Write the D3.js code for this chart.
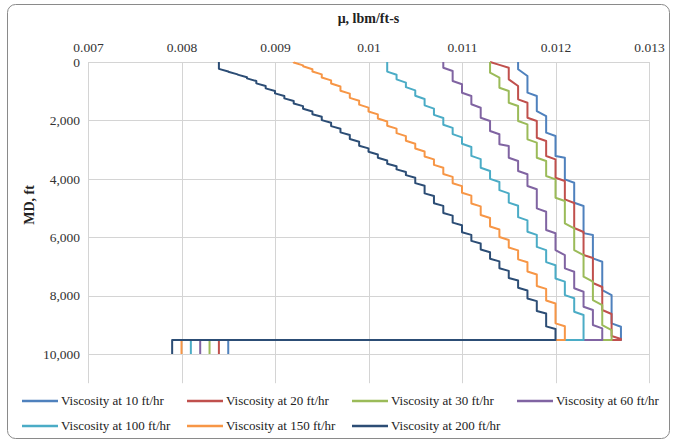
<!DOCTYPE html>
<html>
<head>
<meta charset="utf-8">
<script src="https://cdn.jsdelivr.net/npm/d3@7"></script>
<style>
  body { margin: 0; background: #fff; }
  svg { display: block; }
  svg text { font-family: "Liberation Serif", "Times New Roman", serif; }
</style>
</head>
<body>
<div id="chart"></div>
<script>
// runs of constant viscosity: [mu lbm/ft-s, top MD ft, bottom MD ft]
const visc10 = [
  [0.0116, 0, 250], [0.0117, 480, 1050], [0.0118, 1165, 1680], [0.0119, 1850, 2420],
  [0.0120, 2535, 3220], [0.0121, 3280, 4020], [0.0122, 4135, 4820], [0.0123, 4930, 5860],
  [0.0124, 5925, 6725], [0.0125, 6840, 7810], [0.0126, 7980, 8950], [0.0127, 9065, 9520]
]
const visc20 = [
  [0.0113, 0, 0], [0.0114, 100, 100], [0.0115, 195, 593], [0.0116, 822, 1278],
  [0.0117, 1394, 1907], [0.0118, 2021, 2593], [0.0119, 2706, 3220], [0.0120, 3333, 3963],
  [0.0121, 4076, 4703], [0.0122, 4830, 5685], [0.0123, 5823, 6610], [0.0124, 6713, 7570],
  [0.0125, 7706, 8494], [0.0126, 8631, 9384], [0.0127, 9486, 9520]
]
const visc30 = [
  [0.0113, 0, 365], [0.0114, 537, 880], [0.0115, 993, 1394], [0.0116, 1507, 2021],
  [0.0117, 2135, 2648], [0.0118, 2763, 3278], [0.0119, 3391, 3905], [0.0120, 4018, 4650],
  [0.0121, 4760, 5525], [0.0122, 5696, 6439], [0.0123, 6610, 7353], [0.0124, 7525, 8152],
  [0.0125, 8323, 9008], [0.0126, 9179, 9520]
]
const visc60 = [
  [0.0108, 0, 195], [0.0109, 308, 650], [0.0110, 764, 1051], [0.0111, 1165, 1449],
  [0.0112, 1565, 1908], [0.0113, 2021, 2363], [0.0114, 2476, 2819], [0.0115, 2877, 3278],
  [0.0116, 3391, 3733], [0.0117, 3846, 4247], [0.0118, 4360, 5011], [0.0119, 5127, 5754],
  [0.0120, 5867, 6439], [0.0121, 6610, 7066], [0.0122, 7181, 7750], [0.0123, 7867, 8381],
  [0.0124, 8494, 9008], [0.0125, 9121, 9520]
]
const visc100 = [
  [0.0102, 0, 328], [0.0103, 438, 595], [0.0104, 705, 862], [0.0105, 972, 1158],
  [0.0106, 1268, 1485], [0.0107, 1595, 1810], [0.0108, 1920, 2147], [0.0109, 2257, 2470],
  [0.0110, 2580, 2801], [0.0111, 2911, 3216], [0.0112, 3326, 3621], [0.0113, 3731, 4001],
  [0.0114, 4111, 4389], [0.0115, 4499, 4815], [0.0116, 4925, 5313], [0.0117, 5423, 5812],
  [0.0118, 5922, 6332], [0.0119, 6442, 6852], [0.0120, 6962, 7412], [0.0121, 7522, 7983],
  [0.0122, 8093, 8554], [0.0123, 8664, 9520]
]
const visc150 = [
  [0.0092, 0, 16], [0.0093, 116, 147], [0.0094, 247, 323], [0.0095, 423, 529],
  [0.0096, 629, 738], [0.0097, 838, 983], [0.0098, 1083, 1228], [0.0099, 1328, 1461],
  [0.0100, 1561, 1694], [0.0101, 1794, 1937], [0.0102, 2037, 2182], [0.0103, 2282, 2437],
  [0.0104, 2537, 2697], [0.0105, 2797, 2963], [0.0106, 3063, 3236], [0.0107, 3336, 3524],
  [0.0108, 3624, 3835], [0.0109, 3935, 4150], [0.0110, 4250, 4477], [0.0111, 4577, 4845],
  [0.0112, 4945, 5241], [0.0113, 5341, 5636], [0.0114, 5736, 5994], [0.0115, 6094, 6351],
  [0.0116, 6451, 6758], [0.0117, 6858, 7177], [0.0118, 7277, 7671], [0.0119, 7771, 8170],
  [0.0120, 8270, 8950], [0.0121, 9050, 9520]
]
const visc200 = [
  [0.0084, 0, 235], [0.0085, 325, 334], [0.0086, 424, 433], [0.0087, 523, 561],
  [0.0088, 651, 732], [0.0089, 822, 903], [0.0090, 993, 1075], [0.0091, 1165, 1246],
  [0.0092, 1336, 1422], [0.0093, 1512, 1604], [0.0094, 1694, 1787], [0.0095, 1877, 1990],
  [0.0096, 2080, 2195], [0.0097, 2285, 2410], [0.0098, 2500, 2639], [0.0099, 2729, 2867],
  [0.0100, 2957, 3075], [0.0101, 3165, 3281], [0.0102, 3371, 3482], [0.0103, 3572, 3678],
  [0.0104, 3768, 3875], [0.0105, 3965, 4149], [0.0106, 4239, 4500], [0.0107, 4590, 4838],
  [0.0108, 4928, 5170], [0.0109, 5260, 5502], [0.0110, 5592, 5831], [0.0111, 5921, 6127],
  [0.0112, 6217, 6423], [0.0113, 6513, 6737], [0.0114, 6827, 7063], [0.0115, 7153, 7395],
  [0.0116, 7485, 7733], [0.0117, 7823, 8098], [0.0118, 8188, 8526], [0.0119, 8616, 9055],
  [0.0120, 9145, 9520]
]
// bottom section: viscosity at TD for each series, from 9520 ft to 10000 ft
const tdValues = [0.0085, 0.0084, 0.0083, 0.0082, 0.0081, 0.0080, 0.0079]
const tdDepths = [9520, 10000]

const seriesNames = ['Viscosity at 10 ft/hr', 'Viscosity at 20 ft/hr', 'Viscosity at 30 ft/hr',
  'Viscosity at 60 ft/hr', 'Viscosity at 100 ft/hr', 'Viscosity at 150 ft/hr', 'Viscosity at 200 ft/hr']
const seriesRuns = [visc10, visc20, visc30, visc60, visc100, visc150, visc200]
const colors = ['#4F81BD', '#C0504D', '#9BBB59', '#8064A2', '#4BACC6', '#F79646', '#2C4D75']

const xTicks = [0.007, 0.008, 0.009, 0.01, 0.011, 0.012, 0.013]
const yTicks = [0, 2000, 4000, 6000, 8000, 10000]

const width = 673
const height = 442
const marginLeft = 88
const marginRight = 24
const marginTop = 62
const plotBottom = 383.2

const x = d3.scaleLinear([0.007, 0.013], [marginLeft, width - marginRight])
const y = d3.scaleLinear([0, 11000], [marginTop, plotBottom])

const svg = d3.create('svg')
  .attr('width', width)
  .attr('height', height)
  .attr('viewBox', [0, 0, width, height])

svg.append('rect')
  .attr('x', 7.5).attr('y', 4.5)
  .attr('width', 662).attr('height', 434)
  .attr('rx', 8).attr('ry', 8)
  .attr('fill', '#fff')
  .attr('stroke', '#8a8a8a')
  .attr('stroke-width', 1)

// gridlines
svg.append('g')
  .selectAll('line')
  .data(xTicks)
  .join('line')
  .attr('x1', d => Math.round(x(d)) + 0.5)
  .attr('x2', d => Math.round(x(d)) + 0.5)
  .attr('y1', marginTop)
  .attr('y2', plotBottom)
  .attr('stroke', '#d4d4d4')

svg.append('g')
  .selectAll('line')
  .data(yTicks)
  .join('line')
  .attr('x1', marginLeft)
  .attr('x2', width - marginRight)
  .attr('y1', d => Math.round(y(d)) + 0.5)
  .attr('y2', d => Math.round(y(d)) + 0.5)
  .attr('stroke', '#d4d4d4')

// top axis
const xAxis = d3.axisTop(x).tickValues(xTicks).tickSize(0).tickPadding(10).tickFormat(d3.format(''))
svg.append('g')
  .attr('transform', `translate(0, ${marginTop})`)
  .call(xAxis)
  .attr('font-size', 13.5)
  .call(g => g.select('.domain').remove())
  .call(g => g.selectAll('text').attr('fill', '#333'))

const yAxis = d3.axisLeft(y).tickValues(yTicks).tickSize(0).tickPadding(8).tickFormat(d3.format(','))
svg.append('g')
  .attr('transform', `translate(${marginLeft}, 0)`)
  .call(yAxis)
  .attr('font-size', 13.5)
  .call(g => g.select('.domain').remove())
  .call(g => g.selectAll('text').attr('fill', '#333'))

svg.append('text')
  .attr('x', (marginLeft + width - marginRight) / 2)
  .attr('y', 23)
  .attr('text-anchor', 'middle')
  .attr('font-size', 14)
  .attr('font-weight', 'bold')
  .attr('fill', '#222')
  .text('μ, lbm/ft-s')

svg.append('text')
  .attr('transform', 'translate(34, 205) rotate(-90)')
  .attr('text-anchor', 'middle')
  .attr('font-size', 14)
  .attr('font-weight', 'bold')
  .attr('fill', '#222')
  .text('MD, ft')

// series
const line = d3.line()
  .x(d => x(d[0]))
  .y(d => y(d[1]))

seriesRuns.forEach((runs, i) => {
  const pts = runs.flatMap(r => [[r[0], r[1]], [r[0], r[2]]])
  tdDepths.forEach(dep => pts.push([tdValues[i], dep]))
  svg.append('path')
    .attr('fill', 'none')
    .attr('stroke', colors[i])
    .attr('stroke-width', 2)
    .attr('stroke-linejoin', 'round')
    .attr('d', line(pts))
})

// legend
const legendX = [22, 187, 352, 517]
const legendY = [401, 426]
const legend = svg.append('g')
  .selectAll('g')
  .data(seriesNames)
  .join('g')
  .attr('transform', (_, i) => `translate(${legendX[i % 4]}, ${legendY[Math.floor(i / 4)]})`)

legend.append('line')
  .attr('x1', 0).attr('x2', 36)
  .attr('stroke', (_, i) => colors[i])
  .attr('stroke-width', 2.5)

legend.append('text')
  .attr('x', 39)
  .attr('dy', '0.32em')
  .attr('font-size', 13)
  .attr('fill', '#222')
  .text(d => d)

d3.select('#chart').append(() => svg.node())
</script>
</body>
</html>
